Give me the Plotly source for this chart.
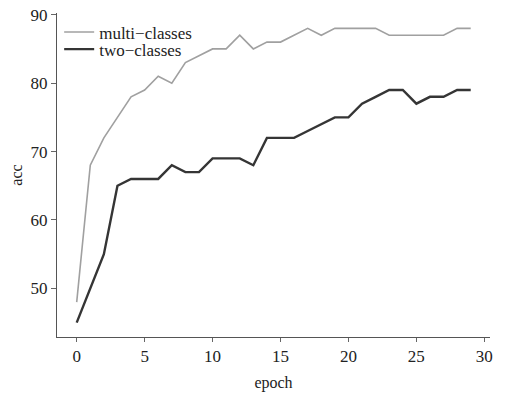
import plotly.graph_objects as go

epochs = list(range(30))
multi_classes = [48, 68, 72, 75, 78, 79, 81, 80, 83, 84, 85, 85, 87, 85, 86, 86, 87, 88, 87, 88,
                 88, 88, 88, 87, 87, 87, 87, 87, 88, 88]
two_classes = [45, 50, 55, 65, 66, 66, 66, 68, 67, 67, 69, 69, 69, 68, 72, 72, 72, 73, 74, 75,
               75, 77, 78, 79, 79, 77, 78, 78, 79, 79]
x_ticks = [0, 5, 10, 15, 20, 25, 30]
y_ticks = [50, 60, 70, 80, 90]

font_family = "Liberation Serif, Times New Roman, serif"

fig = go.Figure()
fig.add_trace(go.Scatter(x=epochs, y=multi_classes, mode="lines", name="multi\u2212classes",
                         line=dict(color="#a0a0a0", width=1.6), legend="legend"))
fig.add_trace(go.Scatter(x=epochs, y=two_classes, mode="lines", name="two\u2212classes",
                         line=dict(color="#353535", width=2.4), legend="legend2"))

leg_common = dict(xanchor="left", yanchor="middle", bgcolor="rgba(0,0,0,0)",
                  font=dict(size=17, family=font_family, color="#222"), itemwidth=30)

fig.update_layout(
    width=509, height=393,
    margin=dict(l=57, r=19, t=13, b=56),
    paper_bgcolor="white", plot_bgcolor="white",
    font=dict(family=font_family, size=17, color="#222"),
    showlegend=True,
    legend=dict(x=0.005, y=0.94, **leg_common),
    legend2=dict(x=0.005, y=0.887, **leg_common),
    xaxis=dict(range=[-1.45, 30.42], tickvals=x_ticks, showgrid=False, zeroline=False,
               showline=True, linecolor="#555", linewidth=1, ticks="outside", ticklen=4,
               tickcolor="#666", automargin=False,
               title=dict(text="epoch", font=dict(size=16), standoff=11)),
    yaxis=dict(range=[42.9, 90.25], tickvals=y_ticks, showgrid=False, zeroline=False,
               showline=True, linecolor="#555", linewidth=1, ticks="outside", ticklen=5,
               tickcolor="#666", automargin=False,
               title=dict(text="acc", font=dict(size=16), standoff=3)),
)

fig.write_html("out.html", config={"displayModeBar": False},
               post_script="document.body.style.margin='0';document.body.style.overflow='hidden';")
